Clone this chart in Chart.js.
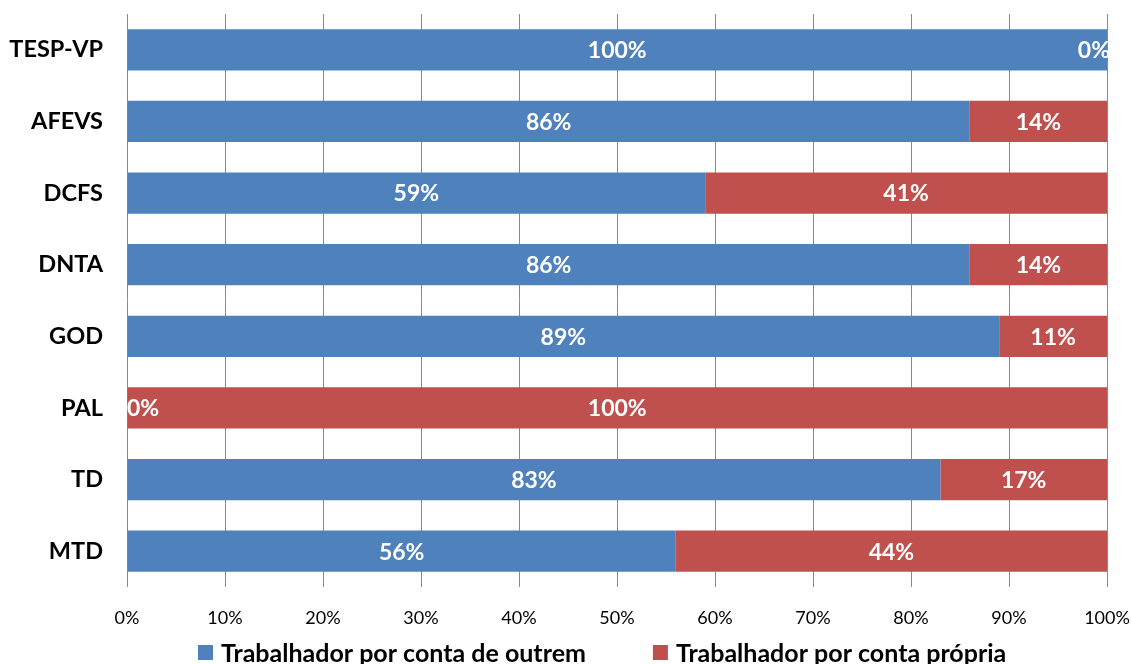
<!DOCTYPE html>
<html>
<head>
<meta charset="utf-8">
<script src="https://cdn.jsdelivr.net/npm/chart.js@4"></script>
<style>
  html, body { margin: 0; padding: 0; background: #fff; }
  #wrap { width: 1132px; height: 664px; }
</style>
</head>
<body>
<div id="wrap"><canvas id="myChart" width="1132" height="664"></canvas></div>
<script>
const categories = ["TESP-VP", "AFEVS", "DCFS", "DNTA", "GOD", "PAL", "TD", "MTD"];
const outrem = [100, 86, 59, 86, 89, 0, 83, 56];
const propria = [0, 14, 41, 14, 11, 100, 17, 44];
const seriesNames = ["Trabalhador por conta de outrem", "Trabalhador por conta própria"];
const seriesColors = ["#4f81bd", "#c0504d"];
const xTicks = [0, 10, 20, 30, 40, 50, 60, 70, 80, 90, 100];

const FONT = "Lato, 'Open Sans', sans-serif";

// white labels in the middle of each segment, kept inside the plot
const barLabels = {
  id: "barLabels",
  afterDatasetsDraw(chart) {
    const ctx = chart.ctx;
    const area = chart.chartArea;
    ctx.save();
    ctx.beginPath();
    ctx.rect(area.left, area.top, area.right - area.left + 3, area.bottom - area.top);
    ctx.clip();
    ctx.font = "bold 23px " + FONT;
    ctx.fillStyle = "#ffffff";
    ctx.textBaseline = "middle";
    ctx.textAlign = "center";
    chart.data.datasets.forEach((ds, i) => {
      const meta = chart.getDatasetMeta(i);
      meta.data.forEach((bar, j) => {
        const txt = ds.data[j] + "%";
        const w = ctx.measureText(txt).width;
        let cx = (bar.x + bar.base) / 2;
        if (cx - w / 2 < area.left) cx = area.left + w / 2;
        if (cx + w / 2 > area.right + 3) cx = area.right + 3 - w / 2;
        ctx.fillText(txt, cx, bar.y + 1);
      });
    });
    ctx.restore();
  }
};

// legend drawn by hand under the axis
const bottomLegend = {
  id: "bottomLegend",
  afterDraw(chart) {
    const ctx = chart.ctx;
    ctx.save();
    ctx.font = "bold 25px " + FONT;
    ctx.textBaseline = "middle";
    ctx.textAlign = "left";
    let x = 198;
    const y = 653;
    seriesNames.forEach((name, i) => {
      ctx.fillStyle = seriesColors[i];
      ctx.fillRect(x, y - 8, 15, 15);
      ctx.fillStyle = "#000";
      ctx.fillText(name, x + 23, y + 1);
      x = x + 23 + ctx.measureText(name).width + 67;
    });
    ctx.restore();
  }
};

new Chart("myChart", {
  type: "bar",
  data: {
    labels: categories,
    datasets: [
      { label: seriesNames[0], data: outrem, backgroundColor: seriesColors[0] },
      { label: seriesNames[1], data: propria, backgroundColor: seriesColors[1] }
    ]
  },
  options: {
    indexAxis: "y",
    responsive: false,
    animation: false,
    layout: { padding: { top: 14, right: 25, left: 0, bottom: 35 } },
    datasets: { bar: { categoryPercentage: 1, barPercentage: 0.575 } },
    scales: {
      x: {
        stacked: true,
        min: 0,
        max: 100,
        afterBuildTicks: (scale) => { scale.ticks = xTicks.map(v => ({ value: v })); },
        grid: { color: "#8a8a8a", lineWidth: 1, drawTicks: false },
        border: { display: false },
        ticks: {
          padding: 20,
          color: "#000",
          maxRotation: 0,
          font: { family: FONT, size: 18 },
          callback: (v) => v + "%"
        },
        afterFit: (scale) => {
          scale.height = 42;
          scale.paddingLeft = 0;
          scale.paddingRight = 0;
        }
      },
      y: {
        stacked: true,
        grid: { display: false, drawTicks: false },
        border: { display: false },
        ticks: {
          padding: 24,
          color: "#000",
          font: { family: FONT, size: 23.5, weight: "bold" }
        },
        afterFit: (scale) => {
          scale.width = 127;
          scale.paddingTop = 0;
          scale.paddingBottom = 0;
        }
      }
    },
    plugins: {
      legend: { display: false },
      tooltip: { enabled: false }
    }
  },
  plugins: [barLabels, bottomLegend]
});
</script>
</body>
</html>
